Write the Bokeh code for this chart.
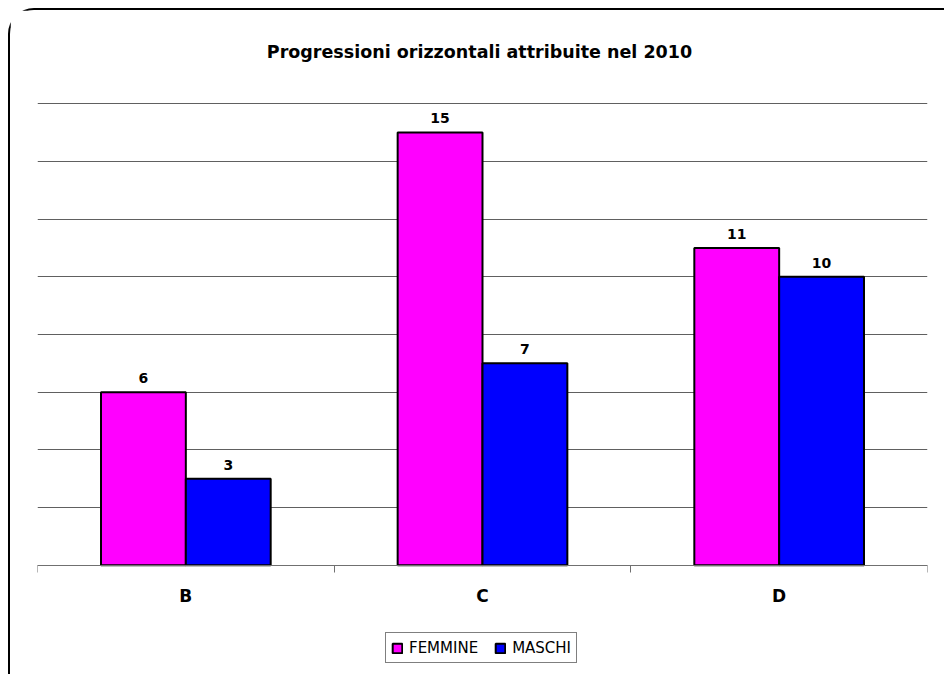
from bokeh.plotting import figure
from bokeh.models import Range1d, FixedTicker, Legend, LegendItem, LinearAxis, Grid, ColumnDataSource, Label
from bokeh.embed import file_html
from bokeh.resources import INLINE
from bokeh.core.properties import value
import numpy as np

# ---- data ----
chart_title = "Progressioni orizzontali attribuite nel 2010"
categories = ["B", "C", "D"]
femmine = [6, 15, 11]
maschi = [3, 7, 10]
series_names = ["FEMMINE", "MASCHI"]
y_ticks = [0, 2, 4, 6, 8, 10, 12, 14, 16]

# ---- layout / styling ----
FONT = "DejaVu Sans"
COL_F = "#FF00FF"
COL_M = "#0000FF"
BAR_W = 0.286
W, H = 936, 666
TOP = 20            # canvas px above the plotting area
ABOVE_PX = 73       # px kept above the top gridline (title area)
PX_SPAN = 461       # px between 0 and the top gridline
BELOW_PX = 111      # px kept under the zero line (axis labels + legend)
TITLE_RISE = 52     # px from the top gridline up to the title's middle

n = len(categories)
centers = np.arange(n) + 0.5
ppu = PX_SPAN / max(y_ticks)
y_top = max(y_ticks) + ABOVE_PX / ppu
y_bot = -BELOW_PX / ppu

p = figure(width=W, height=H,
           x_range=Range1d(0, n), y_range=Range1d(y_bot, y_top),
           x_axis_type=None, y_axis_type=None,
           output_backend="svg", toolbar_location=None,
           min_border_left=27, min_border_right=19,
           min_border_top=TOP, min_border_bottom=0)
p.styles = {"border-top": "2px solid black", "border-left": "2px solid black",
            "border-top-left-radius": "26px",
            "margin-left": "8px", "margin-top": "8px"}
p.outline_line_color = None
p.background_fill_color = "white"
p.border_fill_color = "white"

# title
title = Label(x=n / 2, y=max(y_ticks), y_offset=TITLE_RISE, x_offset=-3,
              text=chart_title, text_align="center", text_baseline="middle",
              text_font=FONT, text_font_size="17.5px", text_font_style="bold",
              text_color="black")
p.add_layout(title)

# grid
grid = Grid(dimension=1, ticker=FixedTicker(ticks=y_ticks),
            grid_line_color="#606060", grid_line_width=1)
p.add_layout(grid)

# x axis drawn at y = 0
xaxis = LinearAxis(ticker=FixedTicker(ticks=list(centers), minor_ticks=list(range(n + 1))),
                   major_label_overrides={float(c): cat for c, cat in zip(centers, categories)},
                   fixed_location=0,
                   axis_line_color="#707070", axis_line_width=1,
                   major_tick_line_color=None,
                   minor_tick_line_color="#707070", minor_tick_out=7, minor_tick_in=0,
                   major_label_standoff=14,
                   major_label_text_font=FONT, major_label_text_font_size="17px",
                   major_label_text_font_style="bold", major_label_text_color="black")
p.add_layout(xaxis, "below")

# bars
src = ColumnDataSource(dict(xf=centers - BAR_W / 2, xm=centers + BAR_W / 2,
                            f=femmine, m=maschi,
                            ft=[str(v) for v in femmine], mt=[str(v) for v in maschi]))
rf = p.vbar(x="xf", top="f", width=BAR_W, bottom=0, source=src,
            fill_color=COL_F, line_color="black", line_width=2)
rm = p.vbar(x="xm", top="m", width=BAR_W, bottom=0, source=src,
            fill_color=COL_M, line_color="black", line_width=2)

# value labels
for xcol, ycol, tcol in (("xf", "f", "ft"), ("xm", "m", "mt")):
    p.text(x=xcol, y=ycol, text=tcol, source=src, text_align="center",
           text_baseline="bottom", y_offset=-9, text_font=value(FONT),
           text_font_size="14px", text_font_style="bold", text_color="black")

legend = Legend(items=[LegendItem(label=series_names[0], renderers=[rf]),
                       LegendItem(label=series_names[1], renderers=[rm])],
                orientation="horizontal", location=(348, 13),
                label_text_font=FONT, label_text_font_size="15px",
                label_text_color="black",
                glyph_width=12, glyph_height=12, label_standoff=6, spacing=16,
                padding=5, margin=0, label_height=19,
                border_line_color="black", border_line_width=1,
                background_fill_color="white", background_fill_alpha=1)
p.add_layout(legend, "center")

open("out.html", "w").write(file_html(p, INLINE))
